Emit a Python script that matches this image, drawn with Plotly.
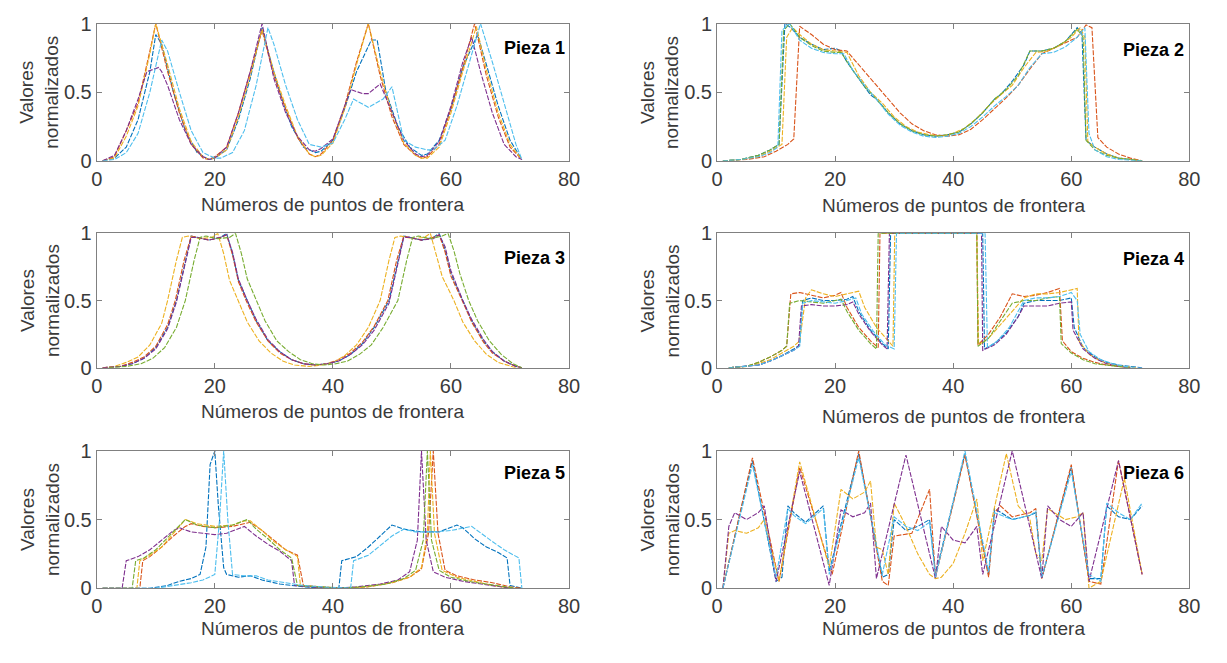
import plotly.graph_objects as go

W, H = 1227, 663

# ---------------- data (x, y) vertices ----------------
P1_BLUE = [(1,0),(3,0.02),(5,0.1),(7,0.3),(9,0.65),(10,0.92),(11,0.85),(13,0.5),(15,0.22),(17,0.06),(19,0.01),(20,0.02),(22,0.08),(24,0.3),(26,0.6),(28,0.97),(29,0.8),(31,0.5),(33,0.25),(35,0.1),(37,0.06),(38,0.07),(40,0.15),(42,0.38),(44,0.65),(46.5,0.88),(47.5,0.88),(49,0.5),(51,0.25),(53,0.1),(55,0.04),(56,0.05),(58,0.15),(60,0.38),(62,0.68),(64.5,0.92),(66,0.7),(68,0.4),(70,0.15),(72,0.01)]
P1_ORANGE = [(1,0),(3,0.03),(5,0.22),(7,0.42),(9,0.8),(10,1.0),(12,0.65),(14,0.35),(16,0.12),(18,0.02),(19,0.01),(20,0.03),(22,0.1),(24,0.35),(26,0.65),(28,0.95),(30,0.62),(32,0.38),(34,0.17),(36,0.05),(37,0.03),(38,0.05),(40,0.15),(42,0.4),(44,0.72),(46,1.0),(48,0.62),(50,0.32),(52,0.12),(54,0.04),(55,0.02),(56,0.03),(58,0.12),(60,0.38),(62,0.68),(64,1.0),(66,0.62),(68,0.32),(70,0.1),(72,0.01)]
P1_YELLOW = [(1,0),(3,0.02),(5,0.18),(7,0.4),(9,0.78),(10,1.0),(12,0.7),(14,0.38),(16,0.14),(18,0.03),(19,0.01),(20,0.02),(22,0.08),(24,0.32),(26,0.62),(28,0.96),(30,0.65),(32,0.4),(34,0.18),(36,0.05),(37,0.03),(38,0.04),(40,0.13),(42,0.38),(44,0.7),(46,1.0),(48,0.65),(50,0.35),(52,0.13),(54,0.04),(55,0.02),(56,0.02),(58,0.1),(60,0.35),(62,0.65),(64.3,0.98),(66,0.66),(68,0.35),(70,0.12),(72,0.01)]
P1_PURPLE = [(1,0),(3,0.04),(5,0.22),(7,0.45),(8.5,0.65),(10.5,0.68),(11,0.65),(12,0.55),(14,0.3),(16,0.12),(18,0.03),(19,0.01),(20,0.02),(22,0.1),(24,0.35),(26,0.65),(28,1.0),(30,0.6),(32,0.35),(34,0.18),(36,0.08),(37,0.07),(38,0.09),(40,0.16),(42,0.4),(43,0.52),(45,0.49),(46,0.49),(48,0.56),(50,0.35),(52,0.15),(54,0.05),(55,0.03),(56,0.04),(58,0.14),(60,0.4),(62,0.72),(63.5,0.9),(65,0.65),(67,0.35),(69,0.12),(71,0.03),(72,0.01)]
P1_CYAN = [(1,0),(3,0.01),(5,0.06),(7,0.2),(9,0.5),(11,0.88),(12,0.8),(14,0.5),(16,0.22),(18,0.06),(20,0.02),(21,0.02),(23,0.06),(25,0.22),(27,0.55),(29,0.97),(30,0.85),(32,0.55),(34,0.3),(36,0.12),(38,0.1),(40,0.13),(42,0.3),(43.5,0.45),(46,0.39),(48.5,0.45),(50,0.54),(51,0.35),(52,0.15),(54,0.1),(56,0.08),(57,0.08),(59,0.15),(61,0.4),(63,0.7),(65,1.0),(67,0.72),(69,0.42),(71,0.12),(72,0.01)]

P2_BLUE = [(1,0),(4,0.01),(7,0.04),(9,0.08),(10.5,0.12),(11.5,1.0),(12.5,0.97),(14,0.9),(16,0.85),(18,0.81),(20,0.82),(21,0.8),(22,0.72),(24,0.6),(26,0.48),(27,0.45),(29,0.35),(31,0.27),(33,0.22),(35,0.19),(37,0.18),(39,0.19),(41,0.21),(43,0.27),(45,0.35),(47,0.45),(48,0.48),(50,0.58),(52,0.7),(53,0.8),(55,0.8),(57,0.82),(59,0.87),(61,0.97),(61.8,0.93),(62.5,0.15),(64,0.1),(66,0.05),(68,0.02),(70,0.01),(72,0)]
P2_ORANGE = [(1,0),(5,0.01),(8,0.03),(10,0.07),(12,0.12),(13,0.16),(14,0.98),(16,0.92),(18,0.85),(20,0.81),(22,0.8),(23,0.75),(25,0.65),(27,0.55),(29,0.45),(31,0.35),(33,0.27),(35,0.22),(37,0.19),(39,0.18),(41,0.19),(43,0.23),(45,0.3),(47,0.38),(49,0.46),(51,0.55),(53,0.67),(55,0.78),(57,0.82),(59,0.86),(61,0.9),(62.5,0.99),(63.5,0.97),(64.5,0.17),(66,0.1),(68,0.05),(70,0.02),(72,0)]
P2_YELLOW = [(1,0),(4,0.01),(7,0.03),(9,0.07),(11,0.12),(11.8,0.9),(12.8,0.97),(14,0.92),(16,0.85),(18,0.81),(20,0.8),(22,0.79),(24,0.62),(26,0.5),(28,0.42),(30,0.32),(32,0.25),(34,0.21),(36,0.19),(38,0.18),(40,0.2),(42,0.24),(44,0.31),(46,0.4),(48,0.48),(50,0.55),(52,0.68),(54,0.79),(56,0.8),(58,0.84),(60,0.9),(61.5,0.97),(62.3,0.9),(62.8,0.14),(64,0.1),(66,0.05),(68,0.02),(70,0.01),(72,0)]
P2_GREEN = [(1,0),(4,0.01),(7,0.04),(9,0.08),(10.5,0.12),(11.3,0.95),(12.3,1.0),(14,0.9),(16,0.84),(18,0.8),(20,0.79),(21,0.79),(23,0.66),(25,0.54),(27,0.45),(29,0.35),(31,0.27),(33,0.22),(35,0.19),(37,0.18),(39,0.19),(41,0.21),(43,0.27),(45,0.35),(47,0.45),(49,0.52),(51,0.62),(53,0.8),(55,0.8),(57,0.82),(59,0.87),(61,0.96),(62,0.9),(62.5,0.15),(64,0.08),(66,0.04),(68,0.02),(70,0.01),(72,0)]
P2_CYAN = [(1,0),(4,0.01),(7,0.03),(9,0.06),(10.3,0.1),(11,0.95),(12.3,1.0),(14,0.88),(16,0.82),(18,0.79),(20,0.78),(21.5,0.78),(23,0.66),(25,0.55),(27,0.45),(29,0.34),(31,0.26),(33,0.21),(35,0.18),(37,0.17),(39,0.18),(41,0.2),(43,0.25),(45,0.32),(47,0.4),(49,0.47),(51,0.55),(53,0.68),(55,0.78),(57,0.79),(59,0.83),(61,0.9),(62.3,0.97),(63,0.2),(64,0.08),(66,0.03),(68,0.01),(72,0)]

P3_BLUE = [(1,0),(4,0.01),(6,0.03),(8,0.07),(10,0.15),(12,0.3),(13.5,0.5),(15,0.8),(16,0.98),(17,0.97),(19,0.95),(21,0.97),(22,1.0),(23,0.85),(24,0.65),(25.5,0.5),(27,0.35),(29,0.2),(31,0.12),(33,0.06),(35,0.03),(37,0.02),(39,0.03),(41,0.05),(43,0.1),(45,0.18),(47,0.3),(49.5,0.5),(51,0.8),(52,0.98),(53,0.97),(55,0.95),(57,0.97),(58,1.0),(59,0.88),(60,0.7),(62,0.5),(63.5,0.35),(65.5,0.2),(67,0.12),(69,0.05),(71,0.01),(72,0)]
P3_ORANGE = [(1,0),(4,0.01),(6,0.04),(8,0.08),(10,0.16),(12,0.32),(13.3,0.5),(14.8,0.8),(16,0.98),(17,0.97),(19,0.95),(21,0.97),(22,0.99),(23,0.84),(24,0.64),(25.3,0.5),(27,0.34),(29,0.2),(31,0.11),(33,0.06),(35,0.03),(37,0.02),(39,0.03),(41,0.06),(43,0.11),(45,0.19),(47,0.31),(49.3,0.5),(50.8,0.8),(52,0.98),(53,0.97),(55,0.95),(57,0.97),(58,0.99),(59,0.86),(60,0.68),(62,0.49),(63.5,0.34),(65.5,0.19),(67,0.11),(69,0.05),(71,0.01),(72,0)]
P3_YELLOW = [(1,0),(3,0.01),(5,0.04),(7,0.08),(9,0.17),(11,0.33),(12,0.5),(13.5,0.8),(14.5,0.97),(15.5,0.98),(17.5,0.96),(19.5,0.97),(20.5,1.0),(21.5,0.85),(22.5,0.65),(24,0.5),(25.5,0.34),(27.5,0.2),(29.5,0.11),(31.5,0.05),(33.5,0.02),(36,0.01),(38,0.02),(40,0.04),(42,0.09),(44,0.17),(46,0.3),(48,0.5),(49.5,0.8),(50.5,0.97),(51.5,0.98),(53.5,0.96),(55.5,0.97),(56.5,1.0),(57.5,0.85),(58.5,0.68),(60.5,0.5),(62,0.34),(64,0.2),(66,0.1),(68,0.04),(70,0.01),(71,0)]
P3_PURPLE = [(1,0),(4,0.01),(6,0.03),(8,0.07),(10,0.14),(12,0.29),(13.5,0.49),(15,0.78),(16,0.97),(17,0.97),(19,0.95),(21,0.97),(22,0.99),(23,0.86),(24,0.66),(25.5,0.5),(27,0.36),(29,0.21),(31,0.12),(33,0.06),(35,0.03),(37,0.02),(39,0.03),(41,0.05),(43,0.1),(45,0.17),(47,0.28),(49.5,0.48),(51,0.78),(52,0.97),(53,0.97),(55,0.95),(57,0.96),(58,0.99),(59,0.9),(60,0.72),(62,0.5),(63.5,0.36),(65.5,0.21),(67,0.12),(69,0.05),(71,0.01),(72,0)]
P3_GREEN = [(2,0),(5,0.01),(7.5,0.03),(9.5,0.07),(11.5,0.15),(13.5,0.3),(15,0.5),(16.5,0.8),(17.5,0.97),(18.5,0.98),(20.5,0.96),(22.5,0.97),(23.5,1.0),(24.5,0.85),(25.5,0.66),(27,0.5),(28.5,0.35),(30.5,0.2),(32.5,0.12),(34.5,0.06),(36.5,0.03),(38.5,0.02),(40.5,0.03),(42.5,0.05),(44.5,0.1),(46.5,0.17),(48.5,0.3),(51,0.5),(52.5,0.8),(53.5,0.97),(54.5,0.98),(56.5,0.96),(58.5,0.98),(59.5,1.0),(60.5,0.87),(61.5,0.7),(63,0.5),(64.5,0.35),(66.5,0.2),(68.5,0.1),(70.5,0.03),(72,0)]

P4_BLUE = [(2,0),(5,0.01),(7,0.02),(9,0.05),(11,0.09),(13,0.14),(14,0.17),(14.5,0.5),(16,0.52),(18,0.5),(20,0.5),(22,0.51),(23,0.53),(24,0.42),(26,0.28),(28,0.18),(29,0.14),(29.4,1.0),(45,1.0),(45.3,0.14),(47,0.18),(49,0.26),(51,0.38),(52,0.48),(54,0.5),(56,0.5),(58,0.5),(60,0.52),(60.5,0.3),(62,0.15),(64,0.08),(66,0.04),(68,0.02),(70,0.01),(72,0)]
P4_ORANGE = [(2,0),(5,0.01),(7,0.04),(9,0.08),(11,0.13),(11.8,0.16),(12.5,0.55),(14,0.56),(16,0.54),(18,0.52),(20,0.54),(21,0.56),(22,0.45),(24,0.3),(26,0.2),(27.3,0.15),(27.6,1.0),(44,1.0),(44.2,0.17),(46,0.25),(48,0.38),(49.5,0.5),(50,0.55),(52,0.53),(54,0.54),(56,0.56),(58,0.59),(58.5,0.2),(60,0.12),(62,0.07),(64,0.04),(66,0.02),(68,0.01),(70,0)]
P4_YELLOW = [(2,0),(5,0.01),(7,0.03),(9,0.06),(11,0.11),(13,0.16),(14,0.2),(15,0.52),(16,0.58),(18,0.55),(20,0.53),(22,0.55),(24,0.57),(25,0.45),(27,0.3),(29,0.2),(29.8,0.16),(30.1,1.0),(44,1.0),(44.3,0.17),(46,0.22),(48,0.32),(50,0.42),(52,0.52),(54,0.55),(56,0.55),(58,0.56),(61,0.59),(61.3,0.2),(63,0.1),(65,0.05),(67,0.02),(69,0.01),(71,0)]
P4_PURPLE = [(2,0),(5,0.01),(7,0.02),(9,0.05),(11,0.09),(13,0.13),(13.8,0.16),(14.3,0.46),(16,0.47),(18,0.46),(20,0.46),(22,0.47),(23,0.49),(24,0.4),(26,0.27),(28,0.17),(28.8,0.14),(29.2,1.0),(44.8,1.0),(45,0.13),(47,0.17),(49,0.25),(51,0.38),(52,0.46),(54,0.46),(56,0.46),(58,0.48),(60,0.49),(60.3,0.28),(62,0.14),(64,0.07),(66,0.03),(68,0.01),(70,0)]
P4_GREEN = [(2,0),(5,0.01),(7,0.04),(9,0.08),(11,0.13),(11.8,0.16),(12.3,0.48),(14,0.5),(16,0.49),(18,0.48),(20,0.5),(21,0.51),(22,0.42),(24,0.28),(26,0.18),(27,0.14),(27.3,1.0),(44,1.0),(44.2,0.16),(46,0.22),(48,0.35),(50,0.48),(52,0.5),(54,0.5),(56,0.52),(58,0.53),(58.3,0.18),(60,0.11),(62,0.06),(64,0.03),(66,0.02),(68,0.01),(70,0)]
P4_CYAN = [(2,0),(5,0.01),(7,0.02),(9,0.05),(11,0.09),(13,0.13),(14,0.16),(14.5,0.48),(16,0.5),(18,0.49),(20,0.48),(22,0.5),(23.5,0.52),(24.5,0.4),(26.5,0.27),(28.5,0.17),(30,0.14),(30.4,1.0),(45.4,1.0),(45.8,0.15),(47.5,0.2),(49.5,0.3),(51,0.42),(52,0.5),(54,0.52),(56,0.52),(58,0.53),(60,0.56),(61,0.5),(61.5,0.25),(63,0.12),(65,0.06),(67,0.03),(69,0.01),(71,0)]

P5_BLUE = [(1,0),(9,0),(12,0.02),(14,0.05),(16,0.07),(17.5,0.1),(18.5,0.3),(19.2,0.9),(20,1.0),(20.6,0.6),(21.5,0.15),(22,0.1),(24,0.08),(26,0.09),(28,0.06),(31,0.03),(35,0.01),(38,0),(41,0),(41.5,0.2),(44,0.23),(46,0.3),(48,0.38),(50,0.46),(52,0.43),(55,0.41),(58,0.41),(61,0.46),(62,0.44),(64,0.36),(66,0.3),(68,0.26),(69.5,0.22),(70,0.02),(72,0)]
P5_ORANGE = [(1,0),(7.3,0),(7.8,0.2),(9,0.23),(11,0.3),(13,0.38),(15,0.45),(16,0.47),(18,0.45),(20,0.44),(23,0.45),(26,0.48),(28,0.42),(30,0.35),(32,0.28),(34,0.24),(35,0.02),(38,0.01),(42,0),(46,0.01),(50,0.04),(53,0.08),(55,0.14),(56.2,0.4),(57,1.0),(57.8,0.4),(59,0.13),(61,0.09),(64,0.06),(67,0.04),(70,0.01),(72,0)]
P5_YELLOW = [(1,0),(6.8,0),(7.3,0.2),(9,0.24),(11,0.3),(13,0.4),(15,0.5),(17,0.47),(20,0.45),(23,0.46),(25,0.49),(26,0.49),(28,0.42),(30,0.34),(32,0.28),(34,0.23),(34.5,0.02),(38,0.01),(42,0),(46,0.01),(50,0.04),(53,0.08),(55,0.15),(56,0.4),(56.5,1.0),(57.2,0.4),(58.5,0.13),(61,0.08),(64,0.05),(67,0.02),(70,0)]
P5_PURPLE = [(1,0),(4.3,0),(5,0.2),(7,0.23),(9,0.28),(11,0.35),(13,0.42),(14,0.44),(16,0.41),(18,0.4),(20,0.39),(22,0.4),(24,0.43),(25,0.45),(27,0.38),(29,0.32),(31,0.27),(33,0.2),(33.5,0.02),(36,0.01),(40,0),(44,0.01),(48,0.03),(51,0.06),(53,0.12),(54.3,0.35),(55,1.0),(55.8,0.35),(57,0.12),(59,0.08),(62,0.05),(65,0.03),(68,0.01),(70,0)]
P5_GREEN = [(1,0),(6,0),(6.6,0.2),(8,0.22),(10,0.28),(12,0.37),(14,0.46),(15,0.5),(17,0.46),(20,0.44),(23,0.46),(25.5,0.5),(27,0.43),(29,0.36),(31,0.28),(33,0.22),(34,0.02),(37,0.01),(41,0),(45,0.01),(49,0.03),(52,0.07),(54,0.13),(55.3,0.35),(56,1.0),(56.7,0.35),(58,0.13),(60,0.08),(63,0.05),(66,0.03),(69,0.01),(71,0)]
P5_CYAN = [(1,0),(10,0),(13,0.02),(16,0.04),(18,0.06),(20,0.1),(20.8,0.5),(21.5,1.0),(22.2,0.5),(23,0.1),(25,0.09),(27,0.09),(29,0.06),(32,0.04),(35,0.02),(38,0.01),(43,0),(43.5,0.2),(46,0.24),(48,0.31),(50,0.38),(52,0.43),(54,0.41),(57,0.41),(60,0.42),(63.5,0.45),(65,0.4),(67,0.34),(69,0.28),(71.5,0.22),(72,0)]

P6_BLUE = [(1,0.0),(6,0.93),(10,0.05),(11,0.08),(12,0.6),(13,0.55),(15,0.48),(18,0.6),(19,0.12),(24,0.98),(28,0.08),(29,0.1),(30,0.5),(32,0.42),(34,0.45),(36,0.5),(37,0.1),(42,0.98),(46,0.1),(47,0.58),(50,0.5),(53,0.53),(54,0.55),(55,0.07),(60,0.88),(63,0.07),(65,0.07),(66,0.6),(68,0.52),(70,0.5),(72,0.6)]
P6_ORANGE = [(1,0.0),(6,0.95),(10.5,0.05),(14,0.88),(19.5,0.1),(24,1.0),(28,0.05),(29,0.02),(30,0.38),(33,0.4),(36,0.72),(37,0.08),(42,0.97),(46,0.08),(47,0.55),(48,0.6),(50,0.52),(53,0.55),(54,0.58),(55,0.07),(60,0.9),(63,0.05),(65,0.03),(68,0.93),(72,0.1)]
P6_YELLOW = [(1,0.0),(2,0.4),(3,0.42),(5,0.4),(7,0.44),(8,0.5),(10.5,0.05),(14,0.92),(19,0.15),(21,0.72),(23,0.65),(25,0.7),(26,0.78),(27,0.3),(28,0.28),(29,0.1),(30,0.62),(32,0.45),(34,0.25),(36,0.1),(37,0.07),(38,0.08),(40,0.18),(42,0.4),(44,0.65),(45,0.2),(49,0.98),(51,0.6),(53,0.5),(54,0.25),(55,0.2),(56,0.58),(59,0.5),(61,0.52),(62,0.55),(63,0.0),(65,0.05),(69,0.8),(72,0.1)]
P6_PURPLE = [(1,0.0),(2,0.45),(3,0.55),(5,0.5),(7,0.55),(8,0.6),(10,0.05),(14,0.85),(19,0.02),(21,0.57),(23,0.52),(25,0.55),(26,0.62),(27,0.07),(32,0.97),(37,0.07),(38,0.45),(40,0.35),(42,0.33),(44,0.45),(45,0.1),(50,1.0),(55,0.07),(56,0.6),(58,0.5),(60,0.45),(62,0.55),(63,0.05),(68,0.93),(72,0.1)]
P6_CYAN = [(1,0.0),(6,0.9),(10,0.08),(12,0.58),(13,0.53),(15,0.47),(18,0.58),(19,0.1),(24,0.95),(28,0.1),(30,0.52),(32,0.45),(34,0.42),(36,0.48),(37,0.08),(42,1.0),(46,0.12),(47,0.55),(50,0.5),(53,0.53),(54,0.56),(55,0.08),(60,0.85),(63,0.1),(65,0.05),(66,0.62),(68,0.55),(70,0.5),(72,0.62)]

X_TICKS = [0, 20, 40, 60, 80]
Y_TICKS = [0, 0.5, 1]
Y_TICK_TEXT = ["0", "0.5", "1"]
PANEL_NAMES = ["Pieza 1", "Pieza 2", "Pieza 3", "Pieza 4", "Pieza 5", "Pieza 6"]
X_TITLE = "Números de puntos de frontera"
Y_TITLE = "Valores<br>normalizados"

C = {"blue": "#0072BD", "orange": "#D95319", "yellow": "#EDB120",
     "purple": "#7E2F8E", "green": "#77AC30", "cyan": "#4DBEEE"}

PANELS = [
    [("blue", P1_BLUE), ("orange", P1_ORANGE), ("yellow", P1_YELLOW), ("purple", P1_PURPLE), ("cyan", P1_CYAN)],
    [("blue", P2_BLUE), ("orange", P2_ORANGE), ("yellow", P2_YELLOW), ("green", P2_GREEN), ("cyan", P2_CYAN)],
    [("blue", P3_BLUE), ("orange", P3_ORANGE), ("yellow", P3_YELLOW), ("purple", P3_PURPLE), ("green", P3_GREEN)],
    [("blue", P4_BLUE), ("orange", P4_ORANGE), ("yellow", P4_YELLOW), ("purple", P4_PURPLE), ("green", P4_GREEN), ("cyan", P4_CYAN)],
    [("blue", P5_BLUE), ("orange", P5_ORANGE), ("yellow", P5_YELLOW), ("purple", P5_PURPLE), ("green", P5_GREEN), ("cyan", P5_CYAN)],
    [("blue", P6_BLUE), ("orange", P6_ORANGE), ("yellow", P6_YELLOW), ("purple", P6_PURPLE), ("cyan", P6_CYAN)],
]

# ---------------- layout geometry (window pixels) ----------------
COLS = [(92, 571), (721, 1200)]
ROWS = [(13, 155), (230, 369), (455, 597)]
XTITLE_Y = [200, 201, 414, 419, 639, 639]
PIEZA_POS = [(536, 38), (1164, 40), (536, 255), (1164, 256), (536, 478), (1164, 478)]

def px(x):
    return x / W

def py(y):
    return 1 - y / H

FONT = "Liberation Sans, Arial, Helvetica, sans-serif"
AX_COLOR = "#808080"
TXT_COLOR = "#3a3a3a"

fig = go.Figure()
layout = dict(width=W, height=H, margin=dict(l=0, r=0, t=0, b=0),
              paper_bgcolor="white", plot_bgcolor="white", showlegend=False,
              font=dict(family=FONT, color=TXT_COLOR))
annotations = []

for i, series in enumerate(PANELS):
    r, c = divmod(i, 2)
    x0, x1 = COLS[c]
    y0, y1 = ROWS[r]
    n = i + 1
    xa = "x" if n == 1 else f"x{n}"
    ya = "y" if n == 1 else f"y{n}"
    layout[f"xaxis{'' if n == 1 else n}"] = dict(
        domain=[px(x0), px(x1)], anchor=ya, range=[0, 80],
        tickvals=X_TICKS, ticks="inside", ticklen=5, tickcolor=AX_COLOR,
        showline=True, linecolor=AX_COLOR, linewidth=1, mirror="ticks",
        showgrid=False, zeroline=False, tickfont=dict(size=20, color=TXT_COLOR, family=FONT))
    layout[f"yaxis{'' if n == 1 else n}"] = dict(
        domain=[py(y1), py(y0)], anchor=xa, range=[0, 1],
        tickvals=Y_TICKS, ticktext=Y_TICK_TEXT, ticks="inside", ticklen=5, tickcolor=AX_COLOR,
        showline=True, linecolor=AX_COLOR, linewidth=1, mirror="ticks",
        showgrid=False, zeroline=False, tickfont=dict(size=20, color=TXT_COLOR, family=FONT))
    for cname, pts in series:
        fig.add_trace(go.Scatter(
            x=[p[0] for p in pts], y=[p[1] for p in pts], mode="lines",
            line=dict(color=C[cname], width=1.1, dash="5px,1.5px"),
            xaxis=xa, yaxis=ya, hoverinfo="skip"))
    annotations.append(dict(text=X_TITLE, x=px((x0 + x1) / 2), y=py(XTITLE_Y[i]),
                            xref="paper", yref="paper", showarrow=False,
                            xanchor="center", yanchor="middle",
                            font=dict(size=19, color=TXT_COLOR, family=FONT)))
    annotations.append(dict(text=Y_TITLE, x=px(x0 - 58), y=py((y0 + y1) / 2),
                            xref="paper", yref="paper", showarrow=False, textangle=-90,
                            xanchor="center", yanchor="middle",
                            font=dict(size=19, color=TXT_COLOR, family=FONT)))
    annotations.append(dict(text=f"<b>{PANEL_NAMES[i]}</b>", x=px(PIEZA_POS[i][0]), y=py(PIEZA_POS[i][1]),
                            xref="paper", yref="paper", showarrow=False,
                            xanchor="center", yanchor="middle",
                            font=dict(size=18, color="black", family=FONT)))

layout["annotations"] = annotations
fig.update_layout(**layout)
# remove the default page margin so the figure sits exactly in the window
fig.write_html("out.html",
               config={"displayModeBar": False, "staticPlot": True},
               post_script="document.body.style.margin='0';document.body.style.overflow='hidden';")
